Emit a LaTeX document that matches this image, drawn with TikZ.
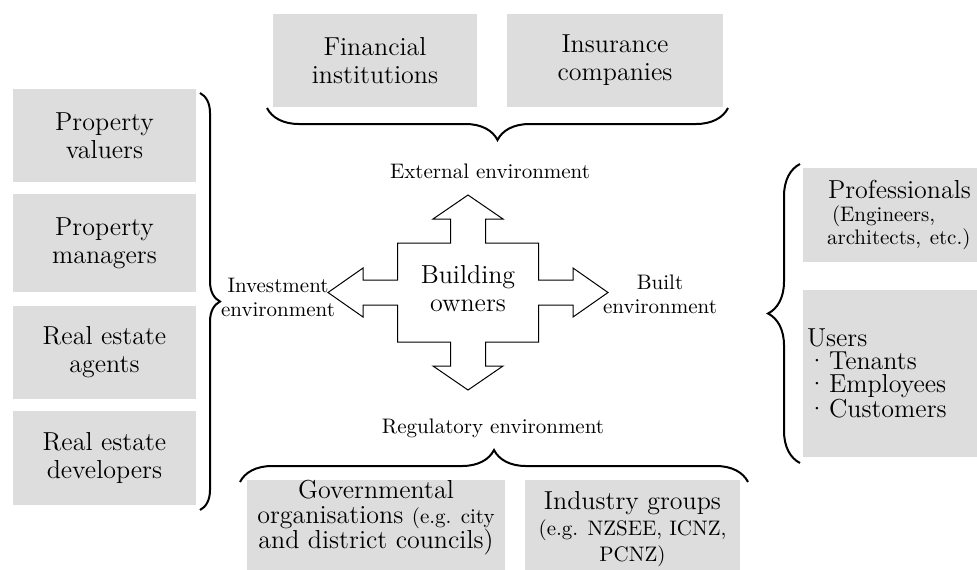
\documentclass[tikz,border=0pt]{standalone}
\usetikzlibrary{decorations.pathreplacing}
\definecolor{boxgray}{RGB}{221,221,221}
\newcommand{\smtxt}{\fontsize{10.5}{11.5}\selectfont}
\newcommand{\itm}{\makebox[11pt][l]{\textperiodcentered}}
\tikzset{%
    gbox/.style={rectangle, fill=boxgray, inner sep=0pt, align=center, font=\fontsize{13}{14}\selectfont},
    txt/.style={inner sep=0pt, align=center, font=\fontsize{13}{14}\selectfont},
    lab/.style={inner sep=0pt, align=center, font=\fontsize{10.5}{12}\selectfont},
    brc/.style={decorate, decoration={brace, amplitude=16pt}, line width=1pt},
    brcm/.style={decorate, decoration={brace, mirror, amplitude=16pt}, line width=1pt},
    arw/.style={line width=0.5pt, line join=miter},
}

\begin{document}
\begin{tikzpicture}[x=0.5pt, y=-0.5pt]
    \useasboundingbox (0,0) rectangle (977,569);
    % external
    \node[gbox, minimum width=102pt, minimum height=46.5pt] (fin) at (375,60.5) {Financial\\institutions};
    \node[gbox, minimum width=108pt, minimum height=46.5pt] (ins) at (615,60.5) {Insurance\\companies};
    \draw [brcm](267,108)--(728,108);
    \node[lab] (ext) at (490,171) {External environment};
    % investment
    \node[gbox, minimum width=91.5pt, minimum height=46.5pt] (val) at (104.5,135.5) {Property\\valuers};
    \node[gbox, minimum width=91.5pt, minimum height=49pt] (man) at (104.5,243) {Property\\managers};
    \node[gbox, minimum width=91.5pt, minimum height=46.5pt] (agt) at (104.5,352.5) {Real estate\\agents};
    \node[gbox, minimum width=91.5pt, minimum height=47pt] (dev) at (104.5,458) {Real estate\\developers};
    \draw [brc, decoration={amplitude=10pt}](200,93)--(200,510);
    \node[lab] (inv) at (278,297) {Investment\\environment};
    % built
    \node[gbox, minimum width=87pt, minimum height=47pt, text width=83pt, align=left, font=\fontsize{13}{11.5}\selectfont] (pro) at (890,215)
        {\hspace*{10.5pt}Professionals\\ \smtxt\hspace*{12.5pt}(Engineers,\\ \hspace*{10pt}architects, etc.)};
    \node[gbox, minimum width=87pt, minimum height=83.5pt, text width=83pt, align=left, font=\fontsize{13}{11.5}\selectfont] (usr) at (890,373.5)
        {Users\\ \itm Tenants\\ \itm Employees\\ \itm Customers};
    \draw [brc](800,463)--(800,164);
    \node[lab] (blt) at (660,294) {Built\\environment};
    % regulatory
    \node[gbox, minimum width=129pt, minimum height=50pt, anchor=north] (gov) at (376,480) {};
    \node[gbox, minimum width=107.5pt, minimum height=50pt, anchor=north] (ind) at (632.5,480) {};
    \node[txt, anchor=north, font=\fontsize{13}{12.5}\selectfont] (govt) at (gov.north)
        {Governmental\\organisations {\smtxt(e.g. city}\\and district councils)};
    \node[txt, anchor=north, font=\fontsize{13}{13}\selectfont] (indt) at ([yshift=-5.5pt]ind.north)
        {Industry groups\\{\smtxt (e.g. NZSEE, ICNZ,}\\{\smtxt PCNZ)}};
    \draw [brc](240,482)--(748,482);
    \node[lab] (reg) at (493,428) {Regulatory environment};
    % owners
    \draw [arw, shift={(468,292.5)}] (0,-97.5)--(35,-73.5)--(17.5,-73.5)--(17.5,-49.5)--(70.5,-49.5)--(70.5,-12.5)
        --(105,-12.5)--(105,-24.5)--(140,0)--(105,24.5)--(105,12.5)--(70.5,12.5)--(70.5,49.5)--(17.5,49.5)
        --(17.5,73.5)--(35,73.5)--(0,97.5)--(-35,73.5)--(-17.5,73.5)--(-17.5,49.5)--(-70.5,49.5)--(-70.5,12.5)
        --(-105,12.5)--(-105,24.5)--(-140,0)--(-105,-24.5)--(-105,-12.5)--(-70.5,-12.5)--(-70.5,-49.5)
        --(-17.5,-49.5)--(-17.5,-73.5)--(-35,-73.5)--cycle;
    \node[txt] (own) at (468,289) {Building\\owners};
\end{tikzpicture}
\end{document}
